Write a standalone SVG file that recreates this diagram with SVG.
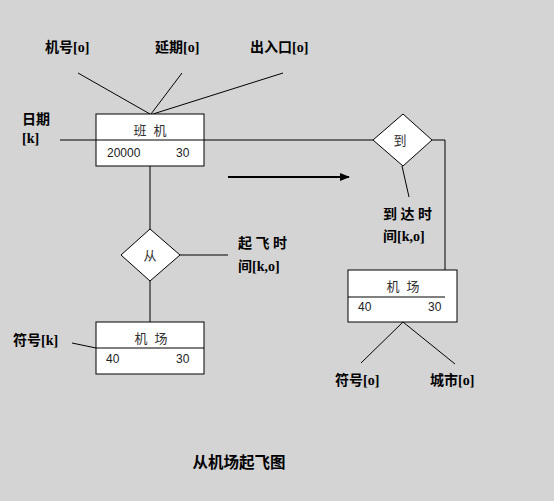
<svg xmlns="http://www.w3.org/2000/svg" width="554" height="501" viewBox="0 0 554 501">
<defs>
<style>
.ln{stroke:#000;stroke-width:1;fill:none}
.box{fill:#fff;stroke:#000;stroke-width:1}
.lbl{font-family:"Liberation Serif","Noto Sans CJK SC",serif;font-weight:bold;font-size:14px;fill:#000}
.in{font-family:"Liberation Sans","Noto Sans CJK SC",sans-serif;font-size:13px;fill:#333}
.num{font-family:"Liberation Sans",sans-serif;font-size:12px;fill:#222}
</style>
<marker id="ah" viewBox="0 0 10 10" refX="9" refY="5" markerWidth="10" markerHeight="10" markerUnits="userSpaceOnUse" orient="auto">
<path d="M0,1 L10,5 L0,9 Z" fill="#000"/>
</marker>
</defs>
<rect width="554" height="501" fill="#d4d4d4"/>
<g id="connectors">
<line class="ln" x1="78" y1="73" x2="150" y2="114"/>
<line class="ln" x1="182" y1="73" x2="151" y2="114"/>
<line class="ln" x1="283" y1="73" x2="153" y2="114"/>
<line class="ln" x1="60" y1="140" x2="373" y2="140"/>
<polyline class="ln" points="432,140 445,140 445,297 457,297"/>
<line class="ln" x1="402" y1="166" x2="409" y2="197"/>
<line class="ln" x1="150" y1="166" x2="150" y2="229"/>
<line class="ln" x1="150" y1="281" x2="150" y2="322"/>
<line class="ln" x1="180" y1="255" x2="228" y2="255"/>
<line class="ln" x1="72" y1="343" x2="96" y2="348"/>
<line class="ln" x1="403" y1="322" x2="361" y2="363"/>
<line class="ln" x1="403" y1="322" x2="455" y2="364"/>
<line x1="228" y1="177" x2="349" y2="177" stroke="#000" stroke-width="2" marker-end="url(#ah)"/>
</g>
<g id="banji">
<rect class="box" x="96" y="114" width="108" height="52"/>
<line class="ln" x1="96" y1="140" x2="204" y2="140"/>
<text class="in" x="150" y="135" text-anchor="middle" xml:space="preserve">班  机</text>
<text class="num" x="107" y="157">20000</text>
<text class="num" x="176" y="157">30</text>
</g>
<g id="dao">
<polygon class="box" points="403,114 432,140 403,166 373,140"/>
<text class="in" x="400" y="145" text-anchor="middle">到</text>
</g>
<g id="cong">
<polygon class="box" points="150,229 180,255 150,281 121,255"/>
<text class="in" x="150" y="260" text-anchor="middle">从</text>
</g>
<g id="jichang-left">
<rect class="box" x="96" y="322" width="108" height="52"/>
<line class="ln" x1="96" y1="348" x2="204" y2="348"/>
<text class="in" x="151" y="343" text-anchor="middle" xml:space="preserve">机  场</text>
<text class="num" x="106" y="363">40</text>
<text class="num" x="176" y="363">30</text>
</g>
<g id="jichang-right">
<rect class="box" x="348" y="270" width="109" height="52"/>
<line class="ln" x1="348" y1="297" x2="445" y2="297"/>
<text class="in" x="403" y="291" text-anchor="middle" xml:space="preserve">机  场</text>
<text class="num" x="358" y="311">40</text>
<text class="num" x="428" y="311">30</text>
</g>
<g id="labels">
<text class="lbl" x="45" y="52">机号[o]</text>
<text class="lbl" x="155" y="52">延期[o]</text>
<text class="lbl" x="250" y="52">出入口[o]</text>
<text class="lbl" x="22" y="124">日期</text>
<text class="lbl" x="22" y="143">[k]</text>
<text class="lbl" x="383" y="219" xml:space="preserve">到 达 时</text>
<text class="lbl" x="383" y="241">间[k,o]</text>
<text class="lbl" x="238" y="248" xml:space="preserve">起 飞 时</text>
<text class="lbl" x="238" y="271">间[k,o]</text>
<text class="lbl" x="13" y="345">符号[k]</text>
<text class="lbl" x="335" y="385">符号[o]</text>
<text class="lbl" x="430" y="385">城市[o]</text>
<text class="lbl" x="239" y="468" text-anchor="middle" style="font-size:15.5px">从机场起飞图</text>
</g>
</svg>
